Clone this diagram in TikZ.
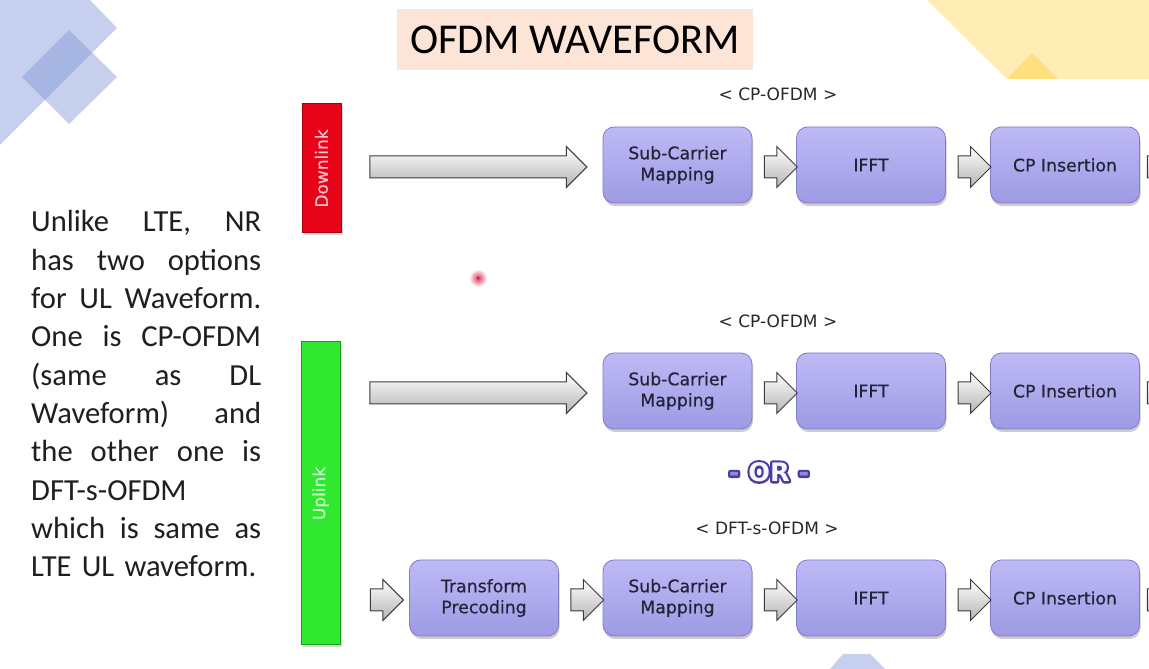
\documentclass[tikz,border=0pt]{standalone}
\usepackage{fontspec}
\setmainfont{Carlito}
\newfontfamily\dvs{DejaVu Sans}
\newfontface\dvsh{DejaVu Sans}[FakeBold=0.5]
\usetikzlibrary{shapes.arrows,shadows,calc}
\definecolor{decoblue}{RGB}{198,208,238}
\definecolor{decoblueb}{RGB}{130,150,215}
\definecolor{yelpale}{RGB}{255,237,181}
\definecolor{yeldark}{RGB}{255,224,128}
\definecolor{titlebg}{RGB}{252,228,214}
\definecolor{boxtop}{RGB}{190,186,246}
\definecolor{boxbot}{RGB}{158,154,228}
\definecolor{boxline}{RGB}{128,124,200}
\definecolor{boxtext}{RGB}{35,35,55}
\definecolor{arrowbot}{RGB}{180,180,180}
\definecolor{arrowline}{RGB}{60,60,60}
\definecolor{barred}{RGB}{232,4,24}
\definecolor{redline}{RGB}{165,0,12}
\definecolor{bargreen}{RGB}{48,232,48}
\definecolor{greenline}{RGB}{22,160,22}
\definecolor{dltext}{RGB}{255,196,204}
\definecolor{ultext}{RGB}{205,255,205}
\definecolor{labtext}{RGB}{40,40,40}
\definecolor{orline}{RGB}{72,62,158}
\definecolor{ordash}{RGB}{140,140,215}
\definecolor{orfill}{RGB}{246,246,255}
\definecolor{dotred}{RGB}{228,50,95}
\newcommand\wsep{\hskip 0.22em plus 1fil minus 0.15em\relax}
\newcommand\jline[1]{\hbox to 230pt{#1}}
\tikzset{
  box/.style={rounded corners=11pt, minimum width=149pt, minimum height=76pt,
    top color=boxtop, bottom color=boxbot, draw=boxline, line width=0.8pt,
    drop shadow={shadow xshift=1pt, shadow yshift=-3pt, opacity=0.4},
    font=\dvsh\fontsize{17.3}{21}\selectfont, text=boxtext, align=center, inner sep=0pt},
  barrow/.style={single arrow, single arrow head extend=9.5pt, inner xsep=0pt, inner ysep=10.5pt,
    top color=white, bottom color=arrowbot, draw=arrowline, line width=1pt},
  lab/.style={font=\dvs\fontsize{17}{17}\selectfont, text=labtext, inner sep=0pt},
  bar/.style={minimum width=39pt, inner sep=0pt, line width=1pt,
    drop shadow={shadow xshift=2pt, shadow yshift=-2pt, opacity=0.3}},
  bartext/.style={rotate=90, font=\dvsh\fontsize{17}{17}\selectfont, inner sep=0pt},
  orfont/.style={font=\dvs\bfseries\fontsize{25.5}{25.5}\selectfont, inner sep=0pt}
}
\begin{document}
\begin{tikzpicture}[x=1pt,y=1pt]
\useasboundingbox (0,0) rectangle (1149,669);
\clip (0,0) rectangle (1149,669);
\fill[white] (0,0) rectangle (1149,669);
% decorations
\fill[decoblue] (0,669) -- (90,669) -- (117,641) -- (0,524) -- cycle;
\fill[decoblueb, fill opacity=0.45] (69,639) -- (117,592) -- (69,545) -- (22,592) -- cycle;
\fill[yelpale] (927,669) -- (1007,590) -- (1149,590) -- (1149,669) -- cycle;
\fill[yeldark] (1007,590) -- (1032,616) -- (1058,590) -- cycle;
\fill[decoblue] (830,0) -- (843,15) -- (870,15) -- (885,0) -- cycle;
% title
\node[fill=titlebg, minimum width=356pt, minimum height=61pt, inner sep=0pt,
  font=\fontsize{42.5}{42.5}\selectfont] (title) at (575,629.5) {OFDM WAVEFORM};
% paragraph
\node[anchor=base west, inner sep=0pt, text width=230pt,
  font=\fontsize{30.6}{38.33}\selectfont, text=black!88] (para) at (31,437) {\parindent=0pt
\jline{Unlike\wsep LTE,\wsep NR}\par
\jline{has\wsep two\wsep options}\par
\jline{for\wsep UL\wsep Waveform.}\par
\jline{One\wsep is\wsep CP-OFDM}\par
\jline{(same\wsep as\wsep DL}\par
\jline{Waveform)\wsep and}\par
\jline{the\wsep other\wsep one\wsep is}\par
DFT-s-OFDM\par
\jline{which\wsep is\wsep same\wsep as}\par
LTE UL waveform.};
% bars
\node[bar, draw=redline, fill=barred, minimum height=129pt] (dl) at (321.5,500.5) {};
\node[bartext, text=dltext] (dlt) at (dl.center) {Downlink};
\node[bar, draw=greenline, fill=bargreen, minimum height=303pt] (ul) at (320.5,175.5) {};
\node[bartext, text=ultext] (ult) at (ul.center) {Uplink};
% labels
\node[lab] (lab1) at (778,575) {< CP-OFDM >};
\node[lab] (lab2) at (778,348) {< CP-OFDM >};
\node[lab] (lab3) at (767,141) {< DFT-s-OFDM >};
% OR (outlined)
\node[orfont, text=orline] (orout) at (769,197)
  {\special{pdf:literal direct 2 Tr 4.5 w 1 j 0.282 0.243 0.62 RG}- OR -\special{pdf:literal direct 0 Tr 1 w}};
\node[orfont] (ortext) at (769,197)
  {\textcolor{ordash}{-} \textcolor{orfill}{OR} \textcolor{ordash}{-}};
% row 1
\node[box] (sc1) at (677.5,504) {Sub-Carrier\\Mapping};
\node[box] (if1) at (871,504) {IFFT};
\node[box] (cp1) at (1065,504) {CP Insertion};
% row 2
\node[box] (sc2) at (677.5,278) {Sub-Carrier\\Mapping};
\node[box] (if2) at (871,278) {IFFT};
\node[box] (cp2) at (1065,278) {CP Insertion};
% row 3
\node[box] (tp3) at (484,71) {Transform\\Precoding};
\node[box] (sc3) at (677.5,71) {Sub-Carrier\\Mapping};
\node[box] (if3) at (871,71) {IFFT};
\node[box] (cp3) at (1065,71) {CP Insertion};
% arrows row 1
\node[barrow, minimum height=217pt, anchor=tip] (in1) at ($(sc1.west)+(-15,-2)$) {};
\node[barrow, minimum height=33pt] (a11) at ($(sc1.east)!0.5!(if1.west)+(1,-2)$) {};
\node[barrow, minimum height=33pt] (a12) at ($(if1.east)!0.5!(cp1.west)+(1,-2)$) {};
\node[barrow, minimum height=33pt, anchor=tail] (out1) at ($(cp1.east)+(7,-2)$) {};
% arrows row 2
\node[barrow, minimum height=217pt, anchor=tip] (in2) at ($(sc2.west)+(-15,-2)$) {};
\node[barrow, minimum height=33pt] (a21) at ($(sc2.east)!0.5!(if2.west)+(1,-2)$) {};
\node[barrow, minimum height=33pt] (a22) at ($(if2.east)!0.5!(cp2.west)+(1,-2)$) {};
\node[barrow, minimum height=33pt, anchor=tail] (out2) at ($(cp2.east)+(7,-2)$) {};
% arrows row 3
\node[barrow, minimum height=33pt, anchor=tip] (in3) at ($(tp3.west)+(-5,-2)$) {};
\node[barrow, minimum height=33pt] (a30) at ($(tp3.east)!0.5!(sc3.west)+(1,-2)$) {};
\node[barrow, minimum height=33pt] (a31) at ($(sc3.east)!0.5!(if3.west)+(1,-2)$) {};
\node[barrow, minimum height=33pt] (a32) at ($(if3.east)!0.5!(cp3.west)+(1,-2)$) {};
\node[barrow, minimum height=33pt, anchor=tail] (out3) at ($(cp3.east)+(7,-2)$) {};
% pointer dot
\shade[inner color=dotred, outer color=white] (478,391) circle (9pt);
\fill[dotred!70!black] (478,391) circle (1.3pt);
\end{tikzpicture}
\end{document}
